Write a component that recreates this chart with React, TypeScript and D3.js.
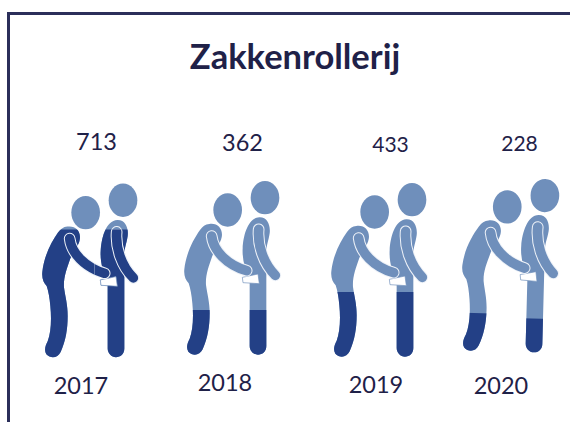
import React from "react";
import * as d3 from "d3";

const years = ["2017", "2018", "2019", "2020"];
const counts = [713, 362, 433, 228];
// Height of the dark fill (px from figure base)
const fillThief = [127, 44, 64, 37];
const fillVictim = [127, 44, 64, 33];

const groupX = [-142, 0, 147, 278];
const groupY = [2.6, 0, 2, -2];
const groupTilt = [0, 0, 0, 1.5];
const countX = [96.5, 242.5, 390.5, 519.5];
const countY = [150, 151, 152, 151];
const countSize = [23.5, 23.5, 21, 21];
const yearX = [81, 225, 376, 501];
const yearY = [394, 391, 393, 394];

const DARK = "#234086";
const LIGHT = "#6f8fbb";
const INK = "#1f2148";
const EDGE = "#eef2f8";
const BASE = 354;

const thiefBody = "M118 162 C144 158 160 178 155 202 C151 222 137 234 127 258 C116 290 106 315 108 345 C112 375 119 395 119 430 C119 470 113 505 98 538 C89 557 68 559 55 545 C47 532 53 518 59 506 C69 480 71 440 67 400 C65 375 61 355 56 340 C47 330 41 318 43 298 C48 250 70 208 90 180 C97 170 106 163 118 162 Z";
const thiefArm = "M125 198 C130 240 168 284 230 302";
const victimBody = "M268 142 C292 141 302 165 299 190 C296 212 289 224 289 250 L289 528 C289 545 277 554 264 554 C250 554 239 542 239 528 L239 330 C226 300 216 270 218 235 C220 195 234 144 268 142 Z";
const victimArm = "M266 178 C262 225 280 280 316 316";
const wallet = "M217 322 L264 312 L268 341 L219 338 Z";

function Figure({ i }: { i: number }) {
  const toPx = d3.scaleLinear().domain([0, 3]).range([0, 1]);
  const scale = toPx(1);
  const ids = [`t${i}`, `v${i}`];
  const body = (color: string) => (
    <g>
      <ellipse cx={173} cy={120} rx={43} ry={50} fill={LIGHT} />
      <ellipse cx={285} cy={83} rx={43} ry={50} fill={LIGHT} />
      <path d={victimBody} fill={color} />
      <path d={victimArm} fill="none" stroke={EDGE} strokeWidth={35} strokeLinecap="round" />
      <path d={victimArm} fill="none" stroke={color} strokeWidth={29} strokeLinecap="round" />
      <path d={thiefBody} fill={color} />
      <path d={wallet} fill="#ffffff" stroke={LIGHT} strokeWidth={2} />
      <path d={thiefArm} fill="none" stroke={EDGE} strokeWidth={35} strokeLinecap="round" />
      <path d={thiefArm} fill="none" stroke={color} strokeWidth={29} strokeLinecap="round" />
    </g>
  );
  const baseLocal = (BASE - 170) * 3;
  return (
    <g transform={`translate(${170 + groupX[i]} ${170 + groupY[i]}) rotate(${groupTilt[i]} 100 100) scale(${scale})`}>
      <defs>
        <clipPath id={ids[0]}>
          <rect x={0} y={baseLocal - fillThief[i] * 3} width={199} height={fillThief[i] * 3 + 30} />
        </clipPath>
        <clipPath id={ids[1]}>
          <rect x={199} y={baseLocal - fillVictim[i] * 3} width={200} height={fillVictim[i] * 3 + 30} />
        </clipPath>
      </defs>
      {body(LIGHT)}
      <g clipPath={`url(#${ids[1]})`}>{body(DARK)}</g>
      <g clipPath={`url(#${ids[0]})`}>{body(DARK)}</g>
    </g>
  );
}

export default function App() {
  const font = "Lato, 'Open Sans', sans-serif";
  return (
    <svg
      width={570}
      height={422}
      viewBox="0 0 570 422"
      style={{ position: "absolute", left: 0, top: 0, background: "#fff" }}
    >
      <path d="M8.5 422 V13.5 H570" fill="none" stroke="#2b2f5a" strokeWidth={3} />
      <text x={295} y={69} textAnchor="middle" fontFamily={font} fontWeight={700} fontSize={34.5} fill={INK}>
        Zakkenrollerij
      </text>
      {years.map((y, i) => (
        <g key={y}>
          <Figure i={i} />
          <text x={countX[i]} y={countY[i]} textAnchor="middle" fontFamily={font} fontSize={countSize[i]} fill={INK}>
            {counts[i]}
          </text>
          <text x={yearX[i]} y={yearY[i]} textAnchor="middle" fontFamily={font} fontSize={23.5} fill={INK}>
            {y}
          </text>
        </g>
      ))}
    </svg>
  );
}
